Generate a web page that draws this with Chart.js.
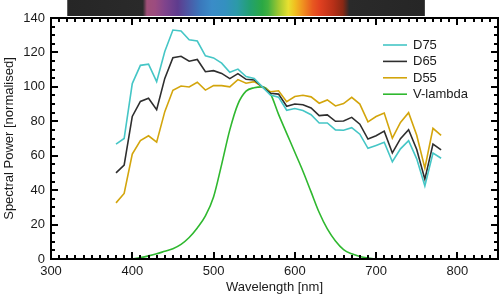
<!DOCTYPE html>
<html>
<head>
<meta charset="utf-8">
<script src="https://cdn.jsdelivr.net/npm/chart.js@4.4.0/dist/chart.umd.min.js"></script>
<style>
  html, body { margin: 0; padding: 0; background: #fff; }
  #wrap { width: 500px; height: 297px; }
</style>
</head>
<body>
<div id="wrap"><canvas id="chart" width="500" height="297"></canvas></div>
<script>
// Wavelengths (nm) for the daylight illuminants
const wavelengths = [380, 390, 400, 410, 420, 430, 440, 450, 460, 470, 480, 490, 500, 510, 520, 530, 540, 550, 560, 570,
                     580, 590, 600, 610, 620, 630, 640, 650, 660, 670, 680, 690, 700, 710, 720, 730, 740, 750, 760, 770, 780];

const d75 = [66.7, 70.0, 101.9, 112.5, 113.2, 103.0, 120.5, 133.0, 132.5, 127.3, 126.6, 118.0, 116.8, 113.8, 108.5, 110.3, 106.0, 104.9, 100.0, 95.2,
             94.0, 86.4, 87.4, 86.3, 83.8, 79.0, 79.0, 75.0, 74.8, 76.3, 72.5, 64.3, 66.0, 67.8, 56.5, 64.0, 68.8, 58.2, 42.4, 61.5, 58.5];

const d65 = [50.0, 54.6, 82.8, 91.5, 93.4, 86.7, 104.9, 117.0, 117.8, 114.9, 115.9, 108.8, 109.4, 107.8, 104.8, 107.7, 104.4, 104.0, 100.0, 96.3,
             95.8, 88.7, 90.0, 89.6, 87.7, 83.3, 83.7, 80.0, 80.2, 82.3, 78.3, 69.7, 71.6, 74.3, 61.6, 69.9, 75.1, 63.6, 46.4, 66.8, 63.4];

const d55 = [32.6, 38.1, 61.0, 68.8, 71.6, 67.9, 85.6, 98.0, 100.5, 99.9, 102.7, 98.1, 100.7, 100.7, 100.0, 104.2, 102.1, 103.0, 100.0, 97.2,
             97.7, 91.4, 94.4, 95.1, 94.2, 90.5, 92.4, 88.9, 90.3, 93.9, 90.0, 79.7, 82.8, 84.8, 70.2, 79.3, 85.0, 71.9, 52.8, 75.9, 71.8];

// Luminosity function (scaled to 100)
const vlWavelengths = [400, 410, 420, 430, 440, 450, 460, 470, 480, 490, 500, 510, 520, 530, 540, 550, 560, 570,
                       580, 590, 600, 610, 620, 630, 640, 650, 660, 670, 680, 690, 700];
const vlambda = [0, 0.8, 1.8, 3.0, 4.5, 6.0, 8.5, 12.5, 18.0, 25.0, 36.0, 55.0, 75.0, 90.0, 97.5, 99.5, 100.0, 96.0,
                 84.0, 73.0, 62.0, 51.0, 39.0, 27.0, 17.5, 10.5, 5.5, 3.0, 1.5, 0.6, 0];

const seriesLabels = ['D75', 'D65', 'D55', 'V-lambda'];
const seriesColors = ['#45c6c6', '#2e2e2e', '#d3a50c', '#2fb82f'];

// Colour strip along the top (wavelength -> colour)
const stripStart = 320, stripEnd = 760;
const stripStops = [
    [320, '#262626'], [413, '#2a2a2a'], [418, '#a05078'], [428, '#9c4c80'], [440, '#80448c'],
    [456, '#5e3c8e'], [471, '#4a5ca8'], [484, '#3a78bc'], [498, '#3a8cc8'], [514, '#3490c0'],
    [529, '#2c9aa8'], [545, '#22a070'], [560, '#2aa844'], [567, '#40b040'], [580, '#a0c830'],
    [592, '#e8e030'], [600, '#f0c020'], [610, '#f09020'], [622, '#e85820'], [631, '#e04020'],
    [647, '#b83018'], [659, '#8a2814'], [667, '#2a2a2a'], [760, '#262626']
];

const FONT = 'Liberation Sans, Arial, Helvetica, sans-serif';

const toPoints = (xs, ys) => xs.map((x, i) => ({ x: x, y: ys[i] }));

const spectrumStrip = {
    id: 'spectrumStrip',
    beforeDraw(chart) {
        const ctx = chart.ctx;
        const xs = chart.scales.x;
        const x0 = xs.getPixelForValue(stripStart);
        const x1 = xs.getPixelForValue(stripEnd);
        const grad = ctx.createLinearGradient(x0, 0, x1, 0);
        stripStops.forEach(([w, c]) => grad.addColorStop((w - stripStart) / (stripEnd - stripStart), c));
        ctx.save();
        ctx.fillStyle = grad;
        ctx.fillRect(x0, 0, x1 - x0, 16);
        ctx.restore();
    }
};

// Box round the plot with inward ticks on all four sides (crisp filled rects)
const frame = {
    id: 'frame',
    afterDraw(chart) {
        const ctx = chart.ctx;
        const left = Math.round(chart.chartArea.left), right = Math.round(chart.chartArea.right);
        const top = Math.round(chart.chartArea.top), bottom = Math.round(chart.chartArea.bottom);
        const xs = chart.scales.x, ys = chart.scales.y;
        ctx.save();
        ctx.fillStyle = '#000000';
        for (let v = 300; v <= 850; v += 10) {
            const p = Math.round(xs.getPixelForValue(v)) - 1;
            const len = v % 100 === 0 ? 7 : 4;
            ctx.fillRect(p, bottom - len, 2, len);
            ctx.fillRect(p, top, 2, len);
        }
        for (let v = 0; v <= 140; v += 5) {
            const p = Math.round(ys.getPixelForValue(v)) - 1;
            const len = v % 20 === 0 ? 7 : 4;
            ctx.fillRect(left, p, len, 2);
            ctx.fillRect(right - len, p, len, 2);
        }
        ctx.fillRect(left - 1, top - 1, right - left + 2, 2);
        ctx.fillRect(left - 1, bottom - 1, right - left + 2, 2);
        ctx.fillRect(left - 1, top - 1, 2, bottom - top + 2);
        ctx.fillRect(right - 1, top - 1, 2, bottom - top + 2);
        ctx.restore();
    }
};

const lineLegend = {
    id: 'lineLegend',
    afterDraw(chart) {
        const ctx = chart.ctx;
        ctx.save();
        ctx.font = '13px ' + FONT;
        ctx.textBaseline = 'middle';
        ctx.fillStyle = '#1a1a1a';
        chart.data.datasets.forEach((ds, i) => {
            const y = 45 + i * 16.4;
            ctx.strokeStyle = ds.borderColor;
            ctx.lineWidth = 1.6;
            ctx.beginPath();
            ctx.moveTo(383, y); ctx.lineTo(407, y);
            ctx.stroke();
            ctx.fillText(ds.label, 413, y + 0.5);
        });
        ctx.restore();
    }
};

const datasets = [
    { label: seriesLabels[0], data: toPoints(wavelengths, d75), borderColor: seriesColors[0] },
    { label: seriesLabels[1], data: toPoints(wavelengths, d65), borderColor: seriesColors[1] },
    { label: seriesLabels[2], data: toPoints(wavelengths, d55), borderColor: seriesColors[2] },
    { label: seriesLabels[3], data: toPoints(vlWavelengths, vlambda), borderColor: seriesColors[3], cubicInterpolationMode: 'monotone' }
].map(ds => ({ borderWidth: 1.6, pointRadius: 0, fill: false, tension: 0, ...ds }));

new Chart(document.getElementById('chart').getContext('2d'), {
    type: 'line',
    data: { datasets },
    options: {
        responsive: false,
        animation: false,
        layout: { padding: { top: 18, right: 2, left: 0, bottom: 0 } },
        plugins: { legend: { display: false }, tooltip: { enabled: false } },
        scales: {
            x: {
                type: 'linear',
                min: 300, max: 850,
                grid: { display: false, drawTicks: false },
                border: { display: false },
                ticks: { stepSize: 100, includeBounds: false, padding: 5, color: '#1a1a1a', font: { family: FONT, size: 13 }, maxRotation: 0 },
                title: { display: true, text: 'Wavelength [nm]', color: '#1a1a1a', font: { family: FONT, size: 13 }, padding: { top: 0, bottom: 2 } },
                afterFit: s => { s.height = 38; }
            },
            y: {
                min: 0, max: 140,
                grid: { display: false, drawTicks: false },
                border: { display: false },
                ticks: { stepSize: 20, padding: 6, color: '#1a1a1a', font: { family: FONT, size: 13 } },
                title: { display: true, text: 'Spectral Power [normalised]', color: '#1a1a1a', font: { family: FONT, size: 13 }, padding: { top: 2, bottom: 0 } },
                afterFit: s => { s.width = 51; }
            }
        }
    },
    plugins: [spectrumStrip, frame, lineLegend]
});
</script>
</body>
</html>
